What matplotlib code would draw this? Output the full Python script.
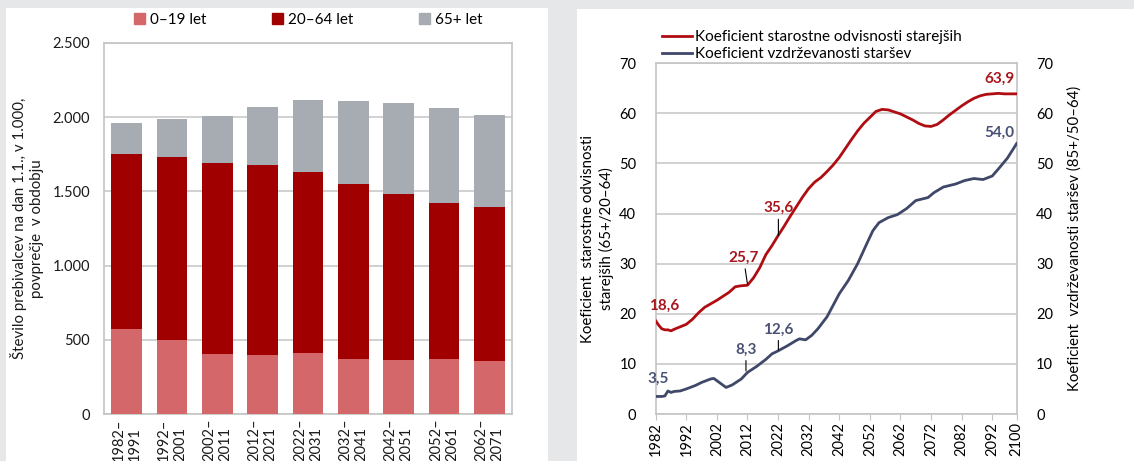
import numpy as np
import matplotlib.pyplot as plt
from matplotlib.patches import Rectangle, Patch

plt.rcParams['font.family'] = ['Lato', 'DejaVu Sans']

# left chart data (thousands, average over the period)
periods = ['1982–\n1991', '1992–\n2001', '2002–\n2011', '2012–\n2021', '2022–\n2031',
           '2032–\n2041', '2042–\n2051', '2052–\n2061', '2062–\n2071']
age_0_19 = [571, 499, 404, 400, 409, 371, 366, 371, 355]
age_20_64 = [1181, 1235, 1290, 1278, 1222, 1179, 1116, 1053, 1042]
age_65 = [209, 254, 316, 391, 485, 559, 616, 640, 618]

# right chart data
years_old = [1982, 1983, 1984, 1985, 1986, 1987, 1988, 1990, 1992, 1994, 1996, 1998, 2000,
             2002, 2004, 2006, 2008, 2010, 2012, 2014, 2016, 2018, 2020, 2022, 2024, 2026,
             2028, 2030, 2032, 2034, 2036, 2038, 2040, 2042, 2044, 2046, 2048, 2050, 2052,
             2054, 2056, 2058, 2060, 2062, 2064, 2066, 2068, 2070, 2072, 2074, 2076, 2078,
             2080, 2082, 2084, 2086, 2088, 2090, 2092, 2094, 2096, 2098, 2100]
old_dep = [18.6, 17.7, 17.0, 16.8, 16.8, 16.6, 16.9, 17.4, 17.9, 18.9, 20.2, 21.3, 22.0,
           22.7, 23.5, 24.3, 25.4, 25.6, 25.7, 27.2, 29.2, 31.8, 33.6, 35.6, 37.5, 39.5,
           41.4, 43.3, 45.0, 46.3, 47.2, 48.4, 49.7, 51.2, 53.0, 54.8, 56.5, 58.0, 59.2,
           60.4, 60.8, 60.7, 60.3, 59.9, 59.3, 58.7, 58.0, 57.5, 57.4, 57.8, 58.7, 59.7,
           60.6, 61.5, 62.3, 63.0, 63.5, 63.8, 63.9, 64.0, 63.9, 63.9, 63.9]
years_par = [1982, 1983, 1984, 1985, 1986, 1987, 1988, 1990, 1992, 1995, 1997, 2000, 2001,
             2003, 2005, 2007, 2010, 2012, 2015, 2018, 2020, 2022, 2025, 2028, 2029, 2031,
             2033, 2035, 2038, 2040, 2042, 2045, 2048, 2051, 2053, 2055, 2058, 2061, 2064,
             2067, 2071, 2073, 2076, 2080, 2083, 2086, 2089, 2092, 2094, 2097, 2100]
parent_sup = [3.5, 3.5, 3.5, 3.6, 4.6, 4.3, 4.5, 4.6, 5.0, 5.7, 6.3, 7.0, 7.1,
              6.2, 5.3, 5.8, 7.0, 8.3, 9.5, 10.9, 12.0, 12.6, 13.6, 14.7, 15.0, 14.8,
              15.7, 17.0, 19.4, 21.7, 24.0, 26.7, 30.0, 34.0, 36.6, 38.2, 39.2, 39.8, 41.0,
              42.6, 43.2, 44.2, 45.3, 45.9, 46.6, 47.0, 46.8, 47.5, 48.9, 51.1, 54.0]

pink = '#d4676a'
dred = '#a00000'
grey = '#a7acb2'
line_red = '#b00d12'
line_blue = '#3f4868'
lab_red = '#a8161b'
lab_blue = '#4a5273'
gridc = '#c9c9c9'

fig = plt.figure(figsize=(11.34, 4.61), dpi=100)
fig.patch.set_facecolor('#e6e7e8')
fig.patches.append(Rectangle((6 / 1134, 0), 542 / 1134, 453 / 461, transform=fig.transFigure,
                             facecolor='white', edgecolor='none', zorder=-10))
fig.patches.append(Rectangle((577 / 1134, 0), 557 / 1134, 452 / 461, transform=fig.transFigure,
                             facecolor='white', edgecolor='none', zorder=-10))

# ---------- left: stacked bars ----------
ax1 = fig.add_axes([104 / 1134, 47 / 461, 408 / 1134, 371 / 461])
x = np.arange(len(periods))
b1 = np.array(age_0_19)
b2 = np.array(age_20_64)
b3 = np.array(age_65)
ax1.bar(x, b1, width=0.68, color=pink, zorder=3)
ax1.bar(x, b2, width=0.68, bottom=b1, color=dred, zorder=3)
ax1.bar(x, b3, width=0.68, bottom=b1 + b2, color=grey, zorder=3)
ax1.set_xlim(-0.5, len(periods) - 0.5)
ax1.set_ylim(0, 2500)
ax1.set_yticks([0, 500, 1000, 1500, 2000, 2500])
ax1.set_yticklabels(['0', '500', '1.000', '1.500', '2.000', '2.500'])
ax1.set_xticks(x)
ax1.set_xticklabels(periods, rotation=90, va='top', ha='center', multialignment='left')
ax1.yaxis.grid(True, color=gridc, lw=1.2, zorder=0)
for s in ax1.spines.values():
    s.set_color('#c4c4c4')
    s.set_linewidth(1.2)
ax1.tick_params(axis='both', length=0, labelsize=10.5, colors='#1a1a1a')
ax1.tick_params(axis='y', pad=10)
ax1.tick_params(axis='x', pad=3)
ax1.set_ylabel('Število prebivalcev na dan 1.1., v 1.000,\npovprečje  v obdobju', fontsize=10.8,
               labelpad=6, color='#1a1a1a', linespacing=1.3)
handles = [Patch(color=pink, label='0–19 let'), Patch(color=dred, label='20–64 let'),
           Patch(color=grey, label='65+ let')]
ax1.legend(handles=handles, loc='center', bbox_to_anchor=(0.5, 1.063), ncol=3, frameon=False,
           fontsize=11, handlelength=0.75, handleheight=0.75, handletextpad=0.3,
           columnspacing=4.3)

# ---------- right: two lines ----------
ax2 = fig.add_axes([655.7 / 1134, 47 / 461, 361 / 1134, 350.7 / 461])
ax2.plot(years_old, old_dep, color=line_red, lw=2, zorder=3,
         label='Koeficient starostne odvisnosti starejših')
ax2.plot(years_par, parent_sup, color=line_blue, lw=2, zorder=3,
         label='Koeficient vzdrževanosti staršev')
ax2.set_xlim(1982, 2100)
ax2.set_ylim(0, 70)
ax2.set_xticks(list(range(1982, 2093, 10)) + [2100])
ax2.tick_params(axis='x', rotation=90, length=4, color='#c4c4c4', labelsize=10.5, pad=2)
ax2.tick_params(axis='y', length=0, labelsize=10.5, pad=14)
ax2.yaxis.grid(True, color=gridc, lw=1.2, zorder=0)
for s in ax2.spines.values():
    s.set_color('#c4c4c4')
    s.set_linewidth(1.2)
ax2.set_ylabel('Koeficient  starostne odvisnosti\nstarejših (65+/20–64)', fontsize=10.8,
               labelpad=4, linespacing=1.3)
ax3 = ax2.twinx()
ax3.set_ylim(0, 70)
ax3.tick_params(axis='y', length=0, labelsize=10.5, pad=14)
for s in ax3.spines.values():
    s.set_visible(False)
ax3.set_ylabel('Koeficient  vzdrževanosti staršev (85+/50–64)', fontsize=10.8, labelpad=10)

ax2.legend(loc='lower left', bbox_to_anchor=(-0.005, 0.985), frameon=False, fontsize=11,
           handlelength=2.0, handletextpad=0.2, labelspacing=0.2, borderpad=0)

bold = dict(fontsize=11, fontweight='bold', ha='center', va='center')
ax2.text(1984.8, 21.5, '18,6', color=lab_red, **bold)
ax2.text(1982.8, 7.0, '3,5', color=lab_blue, **bold)
ax2.text(2094.5, 67.0, '63,9', color=lab_red, **bold)
ax2.text(2094.5, 56.2, '54,0', color=lab_blue, **bold)
arrow = dict(arrowstyle='-', color='black', lw=0.8, shrinkA=1, shrinkB=0)
ax2.annotate('25,7', xy=(2012, 25.9), xytext=(2010.7, 31.2), color=lab_red, arrowprops=arrow, **bold)
ax2.annotate('35,6', xy=(2022.1, 35.6), xytext=(2022.1, 41.1), color=lab_red, arrowprops=arrow, **bold)
ax2.annotate('8,3', xy=(2011.5, 8.6), xytext=(2011.5, 12.9), color=lab_blue, arrowprops=arrow, **bold)
ax2.annotate('12,6', xy=(2022.1, 12.8), xytext=(2022.1, 16.9), color=lab_blue, arrowprops=arrow, **bold)

fig.savefig('out.png', dpi=100)
